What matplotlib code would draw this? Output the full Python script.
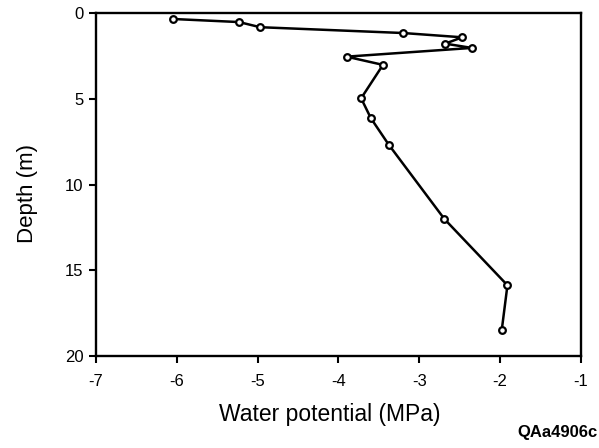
import matplotlib
matplotlib.use("Agg")
import matplotlib.pyplot as plt

water_potential = [-6.05, -5.23, -4.97, -3.20, -2.47, -2.68, -2.35, -3.90, -3.45,
                   -3.72, -3.60, -3.38, -2.69, -1.91, -1.98]
depth = [0.32, 0.50, 0.80, 1.14, 1.39, 1.76, 2.01, 2.52, 3.0,
         4.95, 6.11, 7.65, 12.0, 15.87, 18.47]
x_ticks = [-7, -6, -5, -4, -3, -2, -1]
y_ticks = [0, 5, 10, 15, 20]

plt.rcParams['font.family'] = ['Liberation Sans', 'DejaVu Sans']

fig = plt.figure(figsize=(5.99, 4.48), dpi=100)
ax = fig.add_axes([96/599, 1-356/448, (581-96)/599, (356-13.5)/448])

ax.plot(water_potential, depth, color='black', lw=1.8, marker='o',
        markersize=4.8, markerfacecolor='white', markeredgecolor='black',
        markeredgewidth=1.6, zorder=3)

ax.set_xlim(-7, -1)
ax.set_ylim(20, 0)
ax.set_xticks(x_ticks)
ax.set_xticklabels([str(v) for v in x_ticks])
ax.set_yticks(y_ticks)
ax.set_yticklabels([str(v) for v in y_ticks])
ax.tick_params(direction='out', length=5, width=1.5, labelsize=12, pad=8)
ax.tick_params(axis='y', pad=4)
for s in ax.spines.values():
    s.set_linewidth(1.7)

ax.set_xlabel('Water potential (MPa)', fontsize=16.5)
ax.xaxis.set_label_coords((330-96)/485, -(403-356)/342.5)
ax.set_ylabel('Depth (m)', fontsize=16)
ax.yaxis.set_label_coords(-(96-38)/485, 1 - (194-13.5)/342.5)

fig.text(557/599, 1-432/448, 'QAa4906c', fontsize=12, fontweight='bold',
         ha='center', va='center')

fig.savefig('out.png', dpi=100)
